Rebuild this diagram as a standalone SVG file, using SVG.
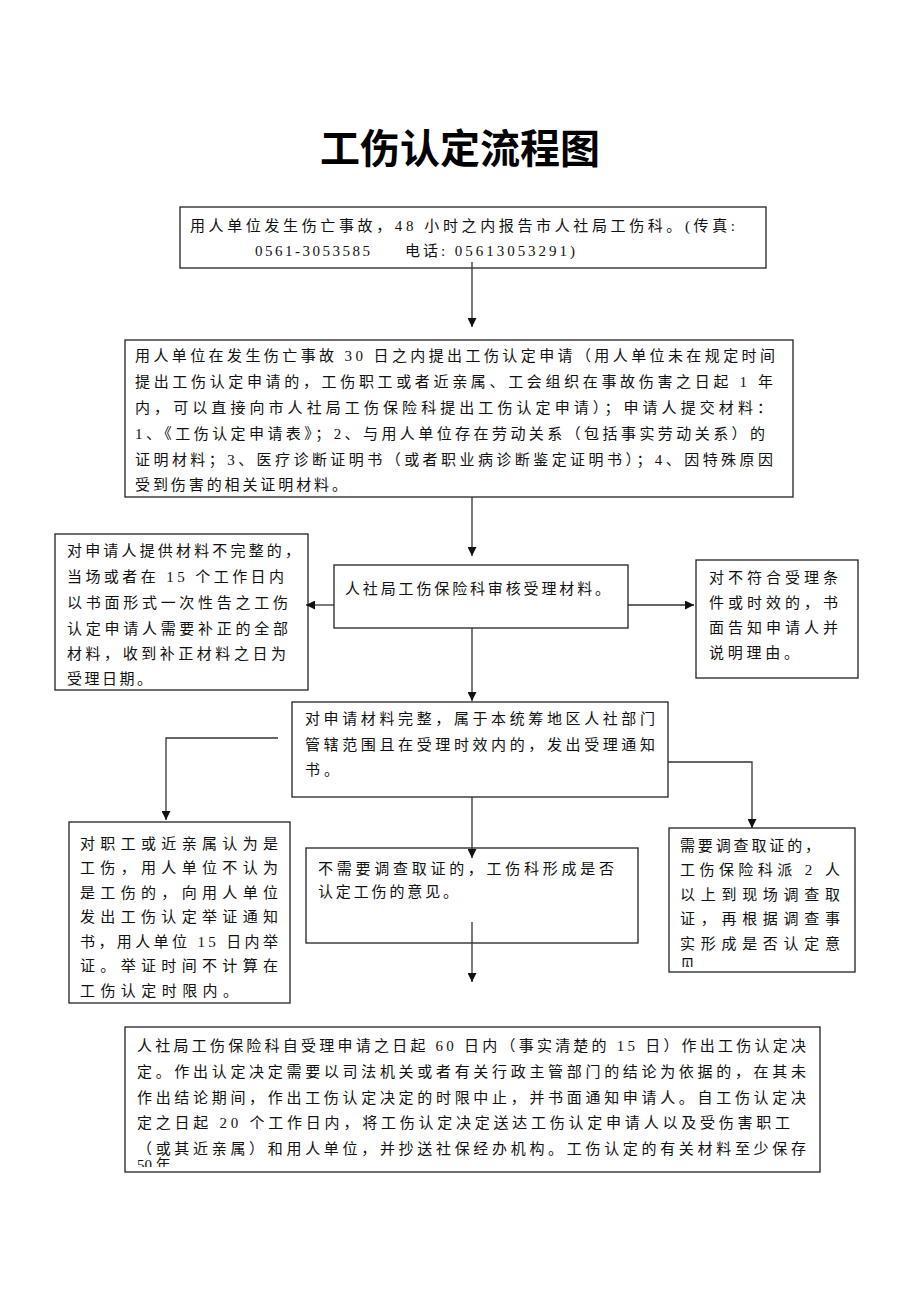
<svg xmlns="http://www.w3.org/2000/svg" width="920" height="1302" viewBox="0 0 920 1302">
<style>
.box{fill:#fff;stroke:#222;stroke-width:1.3}
.t{font-family:"Liberation Serif","Noto Sans CJK SC",serif;font-size:15px;fill:#111}
.title{font-family:"Noto Sans CJK SC",sans-serif;font-size:40px;font-weight:700;fill:#000}
.ln{fill:none;stroke:#333;stroke-width:1.3}
</style>
<defs>
<marker id="ah" viewBox="0 0 10 10" refX="10" refY="5" markerWidth="9" markerHeight="9" markerUnits="userSpaceOnUse" orient="auto">
<path d="M0,0 L10,5 L0,10 z" fill="#111"/>
</marker>
<clipPath id="c1"><rect x="669" y="828" width="186" height="139"/></clipPath>
<clipPath id="c2"><rect x="125" y="1027" width="695" height="140"/></clipPath>
</defs>
<rect width="920" height="1302" fill="#fff"/>
<text class="title" x="460" y="163" text-anchor="middle">工伤认定流程图</text>

<g id="n1">
<rect class="box" x="180" y="207" width="586" height="61"/>
<text class="t" x="190" y="231" textLength="545" lengthAdjust="spacing">用人单位发生伤亡事故，48 小时之内报告市人社局工伤科。(传真:</text>
<text class="t" x="255" y="256" textLength="115" lengthAdjust="spacing">0561-3053585</text>
<text class="t" x="405" y="256" textLength="170" lengthAdjust="spacing">电话: 05613053291)</text>
</g>

<g id="n2">
<rect class="box" x="125" y="340" width="668" height="157"/>
<text class="t" x="135" y="361" textLength="640" lengthAdjust="spacing">用人单位在发生伤亡事故 30 日之内提出工伤认定申请（用人单位未在规定时间</text>
<text class="t" x="135" y="387" textLength="638" lengthAdjust="spacing">提出工伤认定申请的，工伤职工或者近亲属、工会组织在事故伤害之日起 1 年</text>
<text class="t" x="135" y="413" textLength="637" lengthAdjust="spacing">内，可以直接向市人社局工伤保险科提出工伤认定申请）；申请人提交材料：</text>
<text class="t" x="135" y="439" textLength="630" lengthAdjust="spacing">1、《工伤认定申请表》；2、与用人单位存在劳动关系（包括事实劳动关系）的</text>
<text class="t" x="135" y="465" textLength="638" lengthAdjust="spacing">证明材料；3、医疗诊断证明书（或者职业病诊断鉴定证明书）；4、因特殊原因</text>
<text class="t" x="135" y="490" textLength="212" lengthAdjust="spacing">受到伤害的相关证明材料。</text>
</g>

<g id="n3">
<rect class="box" x="334" y="565" width="294" height="63"/>
<text class="t" x="345" y="594" textLength="265" lengthAdjust="spacing">人社局工伤保险科审核受理材料。</text>
</g>

<g id="n4">
<rect class="box" x="55" y="534" width="253" height="156"/>
<text class="t" x="67" y="556" textLength="233" lengthAdjust="spacing">对申请人提供材料不完整的，</text>
<text class="t" x="67" y="582" textLength="217" lengthAdjust="spacing">当场或者在 15 个工作日内</text>
<text class="t" x="67" y="608" textLength="221" lengthAdjust="spacing">以书面形式一次性告之工伤</text>
<text class="t" x="67" y="634" textLength="221" lengthAdjust="spacing">认定申请人需要补正的全部</text>
<text class="t" x="67" y="659" textLength="219" lengthAdjust="spacing">材料，收到补正材料之日为</text>
<text class="t" x="67" y="684" textLength="85" lengthAdjust="spacing">受理日期。</text>
</g>

<g id="n5">
<rect class="box" x="696" y="560" width="162" height="118"/>
<text class="t" x="709" y="583" textLength="129" lengthAdjust="spacing">对不符合受理条</text>
<text class="t" x="709" y="608" textLength="129" lengthAdjust="spacing">件或时效的，书</text>
<text class="t" x="709" y="633" textLength="129" lengthAdjust="spacing">面告知申请人并</text>
<text class="t" x="709" y="658" textLength="90" lengthAdjust="spacing">说明理由。</text>
</g>

<g id="n6">
<rect class="box" x="292" y="702" width="376" height="95"/>
<text class="t" x="305" y="724" textLength="350" lengthAdjust="spacing">对申请材料完整，属于本统筹地区人社部门</text>
<text class="t" x="305" y="750" textLength="350" lengthAdjust="spacing">管辖范围且在受理时效内的，发出受理通知</text>
<text class="t" x="305" y="775" textLength="34" lengthAdjust="spacing">书。</text>
</g>

<g id="n7">
<rect class="box" x="69" y="822" width="221" height="181"/>
<text class="t" x="80" y="849" textLength="198" lengthAdjust="spacing">对职工或近亲属认为是</text>
<text class="t" x="80" y="873" textLength="198" lengthAdjust="spacing">工伤，用人单位不认为</text>
<text class="t" x="80" y="898" textLength="198" lengthAdjust="spacing">是工伤的，向用人单位</text>
<text class="t" x="80" y="922" textLength="198" lengthAdjust="spacing">发出工伤认定举证通知</text>
<text class="t" x="80" y="947" textLength="198" lengthAdjust="spacing">书，用人单位 15 日内举</text>
<text class="t" x="80" y="971" textLength="198" lengthAdjust="spacing">证。举证时间不计算在</text>
<text class="t" x="80" y="996" textLength="158" lengthAdjust="spacing">工伤认定时限内。</text>
</g>

<g id="n8">
<rect class="box" x="306" y="848" width="332" height="95"/>
<text class="t" x="318" y="874" textLength="296" lengthAdjust="spacing">不需要调查取证的，工伤科形成是否</text>
<text class="t" x="318" y="897" textLength="140" lengthAdjust="spacing">认定工伤的意见。</text>
</g>

<g id="n9">
<rect class="box" x="669" y="828" width="186" height="144"/>
<text class="t" x="680" y="851" textLength="140" lengthAdjust="spacing">需要调查取证的，</text>
<text class="t" x="680" y="875" textLength="160" lengthAdjust="spacing">工伤保险科派 2 人</text>
<text class="t" x="680" y="900" textLength="160" lengthAdjust="spacing">以上到现场调查取</text>
<text class="t" x="680" y="924" textLength="160" lengthAdjust="spacing">证，再根据调查事</text>
<text class="t" x="680" y="949" textLength="160" lengthAdjust="spacing">实形成是否认定意</text>
<text class="t" x="680" y="970" clip-path="url(#c1)">见</text>
</g>

<g id="n10">
<rect class="box" x="125" y="1027" width="695" height="145"/>
<text class="t" x="137" y="1051" textLength="669" lengthAdjust="spacing">人社局工伤保险科自受理申请之日起 60 日内（事实清楚的 15 日）作出工伤认定决</text>
<text class="t" x="137" y="1077" textLength="669" lengthAdjust="spacing">定。作出认定决定需要以司法机关或者有关行政主管部门的结论为依据的，在其未</text>
<text class="t" x="137" y="1103" textLength="669" lengthAdjust="spacing">作出结论期间，作出工伤认定决定的时限中止，并书面通知申请人。自工伤认定决</text>
<text class="t" x="137" y="1128" textLength="653" lengthAdjust="spacing">定之日起 20 个工作日内，将工伤认定决定送达工伤认定申请人以及受伤害职工</text>
<text class="t" x="137" y="1154" textLength="669" lengthAdjust="spacing">（或其近亲属）和用人单位，并抄送社保经办机构。工伤认定的有关材料至少保存</text>
<text class="t" x="137" y="1170" clip-path="url(#c2)">50 年</text>
</g>

<g id="connectors">
<line class="ln" x1="472" y1="262" x2="472" y2="327" marker-end="url(#ah)"/>
<line class="ln" x1="472" y1="497" x2="472" y2="556" marker-end="url(#ah)"/>
<line class="ln" x1="334" y1="605" x2="306" y2="605" marker-end="url(#ah)"/>
<line class="ln" x1="628" y1="605" x2="694" y2="605" marker-end="url(#ah)"/>
<line class="ln" x1="472" y1="628" x2="472" y2="701" marker-end="url(#ah)"/>
<polyline class="ln" points="278,738 166,738 166,820" marker-end="url(#ah)"/>
<polyline class="ln" points="668,762 752,762 752,828" marker-end="url(#ah)"/>
<line class="ln" x1="472" y1="797" x2="472" y2="858" marker-end="url(#ah)"/>
<line class="ln" x1="472" y1="922" x2="472" y2="982" marker-end="url(#ah)"/>
</g>
</svg>
